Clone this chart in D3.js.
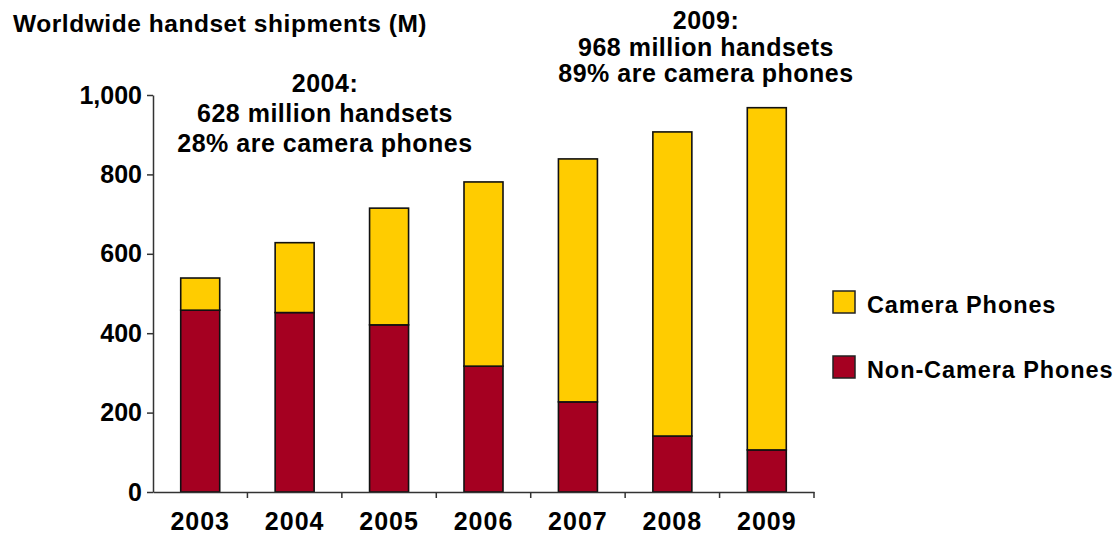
<!DOCTYPE html>
<html>
<head>
<meta charset="utf-8">
<script src="https://cdn.jsdelivr.net/npm/d3@7"></script>
<style>
  body { margin: 0; background: #fff; }
  text { font-family: "Liberation Sans", Arial, sans-serif; font-weight: bold; fill: #000; }
</style>
</head>
<body>
<svg id="chart" width="1118" height="534"></svg>
<script>
// Data (millions of handsets)
const years = ["2003", "2004", "2005", "2006", "2007", "2008", "2009"],
      nonCamera = [458, 452, 421, 317, 227, 141, 106],
      camera = [81, 176, 294, 464, 612, 766, 862],
      yTicks = [0, 200, 400, 600, 800, 1000],
      seriesNames = ["Camera Phones", "Non-Camera Phones"],
      seriesColors = ["#FFCC00", "#A50021"],
      note2004 = ["2004:", "628 million handsets", "28% are camera phones"],
      note2009 = ["2009:", "968 million handsets", "89% are camera phones"];

const plot = {left: 153, right: 814, top: 95, bottom: 492};

let svg = d3.select("#chart");

// Scales
let x = d3.scaleBand()
          .domain(years)
          .range([plot.left, plot.right])
          .paddingInner(0.587)
          .paddingOuter(0.2935);

let y = d3.scaleLinear()
          .domain([0, 1000])
          .range([plot.bottom, plot.top]);

// Stack the two series: non-camera at the bottom, camera on top
let rows = years.map((yr, i) => ({year: yr, nonCamera: nonCamera[i], camera: camera[i]}));
let stacked = d3.stack().keys(["nonCamera", "camera"])(rows);
let fillFor = {nonCamera: seriesColors[1], camera: seriesColors[0]};

svg.append("g")
   .selectAll("g")
   .data(stacked)
   .enter().append("g")
   .attr("fill", (s) => fillFor[s.key])
   .selectAll("rect")
   .data((s) => s)
   .enter().append("rect")
   .attr("x", (d) => x(d.data.year))
   .attr("y", (d) => y(d[1]))
   .attr("width", x.bandwidth())
   .attr("height", (d) => y(d[0]) - y(d[1]))
   .attr("stroke", "#111")
   .attr("stroke-width", 1.6);

// y-Axis
let yAxis = d3.axisLeft(y)
              .tickValues(yTicks)
              .tickSizeInner(6)
              .tickSizeOuter(0)
              .tickPadding(5)
              .tickFormat(d3.format(","));

let yG = svg.append("g")
            .attr("transform", "translate(" + plot.left + ",0)")
            .call(yAxis);
yG.selectAll("text").style("font-size", "25px");
yG.selectAll("line, path").attr("stroke", "#333").attr("stroke-width", 1.5);

// x-Axis: labels centred under bars, ticks on band boundaries
let xAxis = d3.axisBottom(x)
              .tickSize(0)
              .tickPadding(20);

let xG = svg.append("g")
            .attr("transform", "translate(0," + plot.bottom + ")")
            .call(xAxis);
xG.selectAll("text").style("font-size", "25px").style("letter-spacing", "1px");
xG.select(".domain").attr("stroke", "#333").attr("stroke-width", 1.5);

let boundaries = d3.range(years.length + 1).map((i) => x.range()[0] + i * x.step());
xG.selectAll(".bound")
  .data(boundaries.slice(1))
  .enter().append("line")
  .attr("class", "bound")
  .attr("x1", (d) => d)
  .attr("x2", (d) => d)
  .attr("y1", 0)
  .attr("y2", 6)
  .attr("stroke", "#333")
  .attr("stroke-width", 1.5);

// Title
svg.append("text")
   .attr("x", 13)
   .attr("y", 32)
   .style("font-size", "24.5px")
   .style("letter-spacing", "0.55px")
   .text("Worldwide handset shipments (M)");

// Annotations
function addNote(lines, cx, firstBaseline, lineGap) {
  svg.append("g")
     .selectAll("text")
     .data(lines)
     .enter().append("text")
     .attr("x", cx)
     .attr("y", (d, i) => firstBaseline + i * lineGap)
     .style("text-anchor", "middle")
     .style("font-size", "25px")
     .style("letter-spacing", "0.5px")
     .text((d) => d);
}
addNote(note2004, 325, 92, 30);
addNote(note2009, 706, 29, 26.5);

// Legend
let legend = svg.append("g")
                .selectAll("g")
                .data(seriesNames)
                .enter().append("g")
                .attr("transform", (d, i) => "translate(833," + (291 + i * 65) + ")");

legend.append("rect")
      .attr("width", 22)
      .attr("height", 22)
      .attr("fill", (d, i) => seriesColors[i])
      .attr("stroke", "#222")
      .attr("stroke-width", 1.5);

legend.append("text")
      .attr("x", 34)
      .attr("y", 22)
      .style("font-size", "23.5px")
      .style("letter-spacing", "0.9px")
      .text((d) => d);
</script>
</body>
</html>
